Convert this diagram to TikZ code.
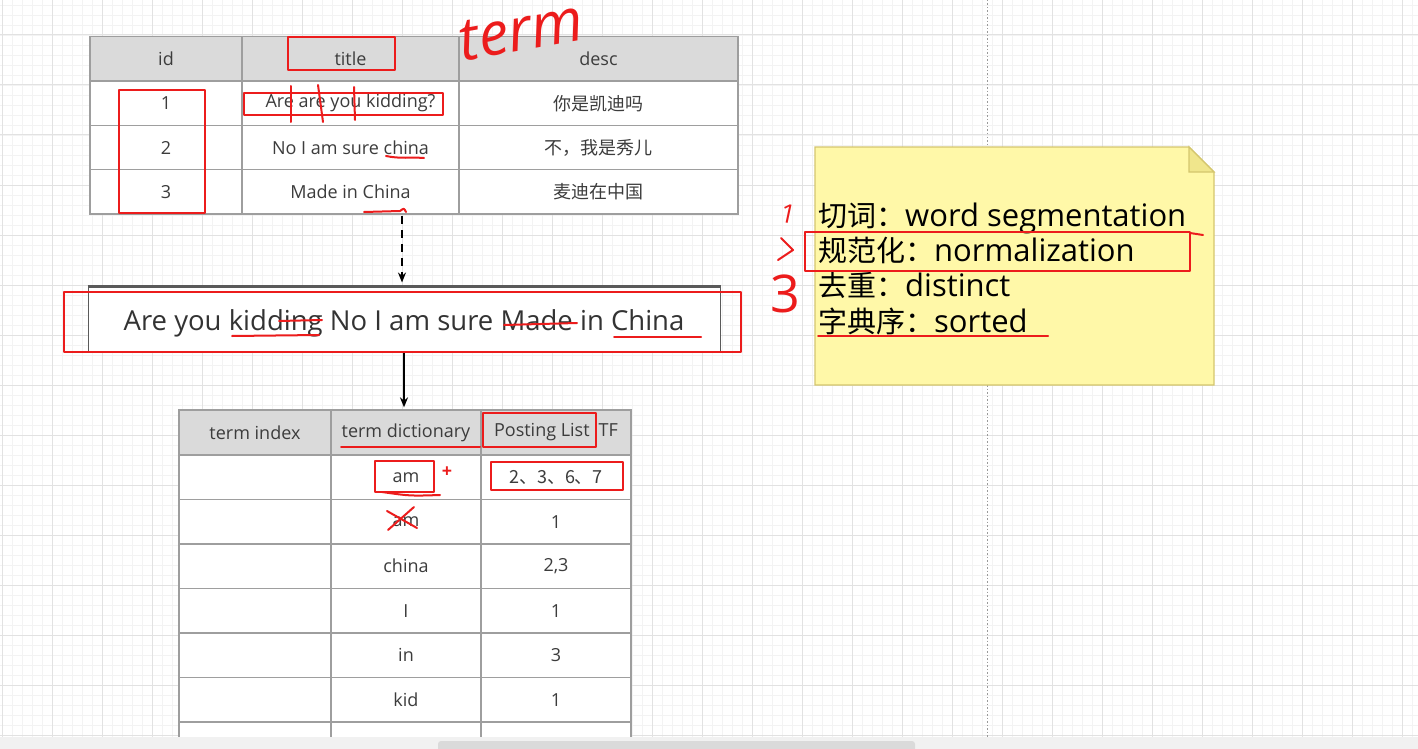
\documentclass[tikz,border=0pt]{standalone}
\usepackage{fontspec}
\setmainfont{Open Sans}
\newfontfamily\cjk{Noto Sans CJK SC}
\usetikzlibrary{arrows.meta}
\definecolor{gridminor}{RGB}{243,243,243}
\definecolor{gridmajor}{RGB}{226,226,226}
\definecolor{tblline}{RGB}{158,158,158}
\definecolor{tblhead}{RGB}{218,218,218}
\definecolor{tbltext}{RGB}{60,60,60}
\definecolor{sentline}{RGB}{90,90,90}
\definecolor{penred}{RGB}{236,28,28}
\definecolor{notefill}{RGB}{255,248,168}
\definecolor{notefold}{RGB}{240,230,140}
\definecolor{noteline}{RGB}{212,198,110}
\definecolor{scrollbg}{RGB}{241,241,241}
\definecolor{scrollthumb}{RGB}{218,218,218}
\tikzset{
  cell/.style={draw=tblline, line width=1.3pt, fill=white, inner sep=0pt, text=tbltext,
    font=\fontsize{18}{20}\selectfont, minimum height=44.3pt},
  headcell/.style={cell, fill=tblhead},
  redpen/.style={draw=penred, line width=2pt, line cap=round, line join=round},
  pagebreak/.style={draw=black!40, line width=0.9pt, dash pattern=on 1.5pt off 2pt},
}
\newcommand{\zh}[1]{{\cjk\fontsize{29}{35.3}\selectfont #1}}

\begin{document}
\begin{tikzpicture}[x=1pt,y=-1pt]
\useasboundingbox (0,0) rectangle (1418,749);
\clip (0,0) rectangle (1418,749);

%Background grid
\fill[white] (0,0) rectangle (1418,749);
\foreach \x in {2,12,...,1412} \draw[gridminor, line width=0.8pt] (\x,0) -- (\x,749);
\foreach \y in {5,15,...,745} \draw[gridminor, line width=0.8pt] (0,\y) -- (1418,\y);
\foreach \x in {2,52,...,1402} \draw[gridmajor, line width=1pt] (\x,0) -- (\x,749);
\foreach \y in {35,85,...,735} \draw[gridmajor, line width=1pt] (0,\y) -- (1418,\y);
%Page break
\draw[pagebreak] (987,0) -- (987,749);

%Table: documents
\node[headcell, minimum width=152pt] (hid) at (166,59) {id};
\node[headcell, minimum width=217pt] (htitle) at (350.5,59) {title};
\node[headcell, minimum width=279pt] (hdesc) at (598.5,59) {desc};
\node[cell, minimum width=152pt] (id1) at (166,103.3) {1};
\node[cell, minimum width=217pt] (title1) at (350.5,103.3) {Are are you kidding?};
\node[cell, minimum width=279pt] (desc1) at (598.5,103.3) {\cjk 你是凯迪吗};
\node[cell, minimum width=152pt] (id2) at (166,147.6) {2};
\node[cell, minimum width=217pt] (title2) at (350.5,147.6) {No I am sure china};
\node[cell, minimum width=279pt] (desc2) at (598.5,147.6) {\cjk 不，我是秀儿};
\node[cell, minimum width=152pt] (id3) at (166,191.9) {3};
\node[cell, minimum width=217pt] (title3) at (350.5,191.9) {Made in China};
\node[cell, minimum width=279pt] (desc3) at (598.5,191.9) {\cjk 麦迪在中国};

%Tokenized sentence
\node[draw=sentline, line width=1pt, fill=white, minimum width=632pt, minimum height=65pt,
  inner sep=0pt, text height=24pt, text depth=3pt, text=black!80,
  font=\fontsize{27.5}{30}\selectfont] (sentence) at (404,319.5)
  {Are you kidding No I am sure Made in China};
\draw[sentline, line width=3pt] (sentence.north west) -- (sentence.north east);

%Table: inverted index
\node[headcell, minimum width=152pt, minimum height=45pt] (hindex) at (255,432.5) {term index};
\node[headcell, minimum width=150pt, minimum height=45pt] (hdict) at (406,432.5) {term dictionary};
\node[headcell, minimum width=150pt, minimum height=45pt] (hpost) at (556,432.5) {Posting List\hspace{9pt}TF};
\node[cell, minimum width=152pt, minimum height=44.5pt] (idx1) at (255,477.2) {};
\node[cell, minimum width=150pt, minimum height=44.5pt] (term1) at (406,477.2) {am};
\node[cell, minimum width=150pt, minimum height=44.5pt] (post1) at (556,477.2) {\cjk 2、3、6、7};
\node[cell, minimum width=152pt, minimum height=44.5pt] (idx2) at (255,521.7) {};
\node[cell, minimum width=150pt, minimum height=44.5pt] (term2) at (406,521.7) {am};
\node[cell, minimum width=150pt, minimum height=44.5pt] (post2) at (556,521.7) {1};
\node[cell, minimum width=152pt, minimum height=44.5pt] (idx3) at (255,566.2) {};
\node[cell, minimum width=150pt, minimum height=44.5pt] (term3) at (406,566.2) {china};
\node[cell, minimum width=150pt, minimum height=44.5pt] (post3) at (556,566.2) {2,3};
\node[cell, minimum width=152pt, minimum height=44.5pt] (idx4) at (255,610.7) {};
\node[cell, minimum width=150pt, minimum height=44.5pt] (term4) at (406,610.7) {I};
\node[cell, minimum width=150pt, minimum height=44.5pt] (post4) at (556,610.7) {1};
\node[cell, minimum width=152pt, minimum height=44.5pt] (idx5) at (255,655.2) {};
\node[cell, minimum width=150pt, minimum height=44.5pt] (term5) at (406,655.2) {in};
\node[cell, minimum width=150pt, minimum height=44.5pt] (post5) at (556,655.2) {3};
\node[cell, minimum width=152pt, minimum height=44.5pt] (idx6) at (255,699.7) {};
\node[cell, minimum width=150pt, minimum height=44.5pt] (term6) at (406,699.7) {kid};
\node[cell, minimum width=150pt, minimum height=44.5pt] (post6) at (556,699.7) {1};
\node[cell, minimum width=152pt, minimum height=44.5pt] (idx7) at (255,744.2) {};
\node[cell, minimum width=150pt, minimum height=44.5pt] (term7) at (406,744.2) {};
\node[cell, minimum width=150pt, minimum height=44.5pt] (post7) at (556,744.2) {};

%Arrows
\coordinate (src) at (402,216);
\draw[black, line width=1.6pt, dash pattern=on 8pt off 6pt, shorten >=4pt,
  -{Stealth[length=10pt,width=8pt]}] (src) -- (src |- sentence.north);
\draw[black, line width=1.6pt, shorten >=2pt, -{Stealth[length=10pt,width=8pt]}]
  (sentence.south) -- (sentence.south |- hdict.north);

%Sticky note
\filldraw[fill=notefill, draw=noteline, line width=1.2pt]
  (815,147) -- (1189,147) -- (1214,172) -- (1214,385) -- (815,385) -- cycle;
\filldraw[fill=notefold, draw=noteline, line width=1.2pt] (1189,147) -- (1189,172) -- (1214,172) -- cycle;
\node[anchor=west, align=left, inner sep=0pt, font=\fontsize{31}{35.3}\selectfont] (notetext) at (818,268.5)
  {\zh{切词：}word segmentation\\\zh{规范化：}normalization\\\zh{去重：}distinct\\\zh{字典序：}sorted};

%Red pen marks: documents
\node[text=penred, inner sep=0pt, font=\fontsize{60}{62}\itshape, rotate=10] (termword) at (521,31) {term};
\draw[redpen] (288,37) rectangle (395,70);
\draw[redpen] (244,93) rectangle (443,115);
\draw[redpen] (291,86) -- (291,122);
\draw[redpen] (318,85) -- (323,122);
\draw[redpen] (354,87) -- (355,120);
\draw[redpen] (119,90) rectangle (205,213);
\draw[redpen] (386,156) .. controls (400,159) and (412,157) .. (424,158);
\draw[redpen] (364,212) -- (400,211) .. controls (404,208) .. (406,212);

%Red pen marks: sentence
\draw[redpen] (64,292) rectangle (741,352);
\draw[redpen] (232,336) -- (319,335);
\draw[redpen] (279,321) -- (322,320);
\draw[redpen] (504,325) -- (577,323);
\draw[redpen] (614,337) -- (701,337);

%Red pen marks: inverted index
\draw[redpen] (341,447) -- (480,447);
\draw[redpen] (483,413) rectangle (596,447);
\draw[redpen] (375,461) rectangle (434,492);
\draw[redpen] (382,492) .. controls (410,496) .. (440,495);
\node[text=penred, font=\bfseries\fontsize{18}{18}\selectfont] (plus) at (447,472) {+};
\draw[redpen] (491,462) rectangle (623,490);
\draw[redpen] (387,511) -- (417,528);
\draw[redpen] (388,530) -- (414,507);

%Red pen marks: note
\draw[redpen] (805,232) rectangle (1190,271);
\draw[redpen] (1190,233) -- (1203,235);
\draw[redpen] (818,336) -- (1048,336);
\node[text=penred, font=\fontsize{26}{26}\selectfont, rotate=-12] (stepone) at (788,214) {1};
\draw[redpen] (781,238) -- (793,250) -- (778,260);
\node[text=penred, font=\fontsize{52}{52}\selectfont] (stepthree) at (785,294) {3};

%Scroll bar
\fill[scrollbg] (0,737) rectangle (1418,749);
\fill[scrollthumb, rounded corners=3pt] (438,741) rectangle (915,752);
\end{tikzpicture}
\end{document}
